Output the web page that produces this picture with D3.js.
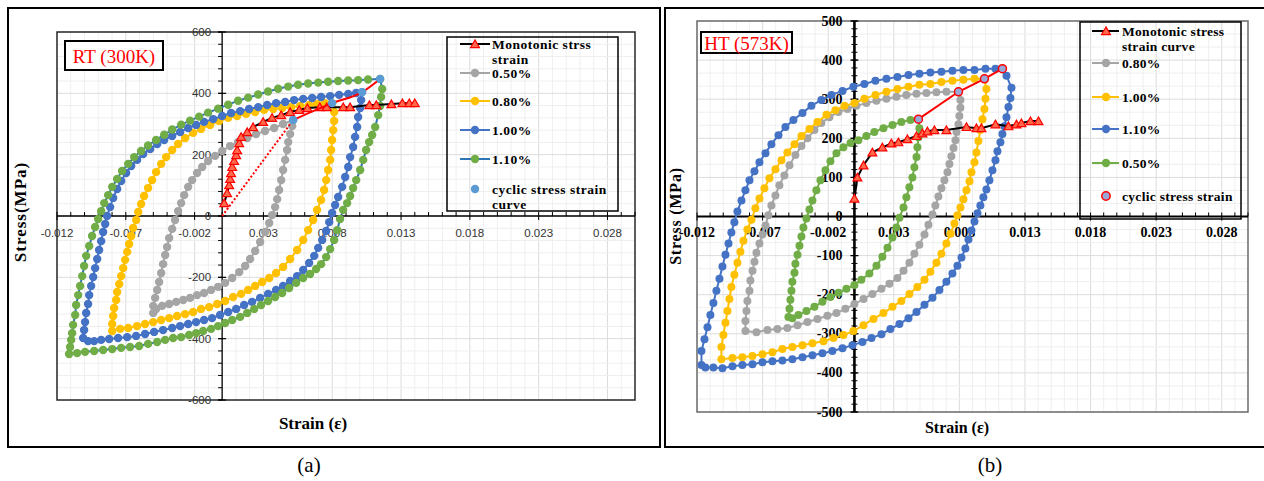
<!DOCTYPE html>
<html>
<head>
<meta charset="utf-8">
<script src="https://cdn.jsdelivr.net/npm/d3@7"></script>
<style>
  body { margin: 0; background: #fff; }
  svg { display: block; }
</style>
</head>
<body>
<svg id="fig" width="1264" height="481"></svg>
<script>
// ---- axis tick values ----
const strainTickLabels = [-0.012, -0.007, -0.002, 0.003, 0.008, 0.013, 0.018, 0.023, 0.028];
const stressTicksRT = [-600, -400, -200, 0, 200, 400, 600];
const stressTicksHT = [-500, -400, -300, -200, -100, 0, 100, 200, 300, 400, 500];

// ---- (a) RT (300K): [strain, stress MPa] ----
const rtMonotonic = [
  [0.00015,42],[0.00036,75],[0.00051,101],[0.00058,121],[0.00065,140],[0.00073,160],[0.00087,180],
  [0.00102,199],[0.00109,215],[0.00124,238],[0.00138,258],[0.00182,274],[0.00225,290],[0.00298,307],
  [0.00363,320],[0.00429,329],[0.00494,339],[0.0056,346],[0.0062,352],[0.0071,355],[0.0076,355],
  [0.0088,355],[0.0093,355],[0.0107,362],[0.0112,362],[0.0123,365],[0.0131,368],[0.0136,368],[0.014,368]
];
const rtLoop050 = [
  [0.00516,313],[0.00509,293],[0.00494,267],[0.0048,241],[0.00472,215],[0.00458,183],[0.00443,150],
  [0.00429,117],[0.00414,85],[0.004,55],[0.00385,29],[0.00363,3],[0.00342,-23],[0.00312,-52],
  [0.00276,-85],[0.0024,-114],[0.00203,-140],[0.00167,-163],[0.00124,-183],[0.00073,-202],[0.00022,-218],
  [-0.00029,-231],[-0.0008,-241],[-0.00131,-251],[-0.00182,-258],[-0.00233,-267],[-0.00283,-274],
  [-0.00334,-280],[-0.00385,-287],[-0.00436,-293],[-0.0048,-303],[-0.00501,-316],[-0.00501,-293],
  [-0.00487,-267],[-0.00472,-241],[-0.00458,-215],[-0.00443,-186],[-0.00429,-157],[-0.00414,-127],
  [-0.004,-101],[-0.00385,-72],[-0.00363,-42],[-0.00342,-13],[-0.0032,16],[-0.00298,42],[-0.00276,68],
  [-0.00247,95],[-0.00218,117],[-0.00182,140],[-0.00145,160],[-0.00102,179],[-0.00051,196],[0,212],
  [0.00058,228],[0.00116,241],[0.00182,254],[0.00247,267],[0.00312,277],[0.00378,287],[0.00443,300]
];
const rtLoop080 = [
  [0.00799,368],[0.00814,339],[0.00814,310],[0.00807,280],[0.00799,248],[0.00792,215],[0.00785,183],
  [0.0077,150],[0.00756,117],[0.00741,85],[0.00719,52],[0.0069,20],[0.00661,-13],[0.00625,-46],
  [0.00589,-78],[0.00545,-111],[0.00494,-140],[0.00443,-166],[0.00392,-186],[0.00342,-202],[0.00291,-215],
  [0.0024,-228],[0.00189,-241],[0.00138,-254],[0.0008,-264],[0.00022,-277],[-0.00036,-287],[-0.00094,-297],
  [-0.00153,-303],[-0.00211,-313],[-0.00269,-320],[-0.00327,-326],[-0.00385,-333],[-0.00443,-339],
  [-0.00501,-346],[-0.0056,-352],[-0.00618,-359],[-0.00683,-365],[-0.00741,-368],[-0.00799,-375],
  [-0.00799,-352],[-0.00792,-326],[-0.00785,-300],[-0.0077,-274],[-0.00763,-248],[-0.00748,-222],
  [-0.00734,-196],[-0.00719,-170],[-0.00705,-143],[-0.0069,-117],[-0.00676,-91],[-0.00661,-65],
  [-0.00647,-39],[-0.00625,-13],[-0.0061,13],[-0.00589,39],[-0.00567,65],[-0.00538,91],[-0.00509,117],
  [-0.0048,143],[-0.00443,170],[-0.00407,192],[-0.00363,215],[-0.0032,235],[-0.00269,254],[-0.00211,271],
  [-0.00153,284],[-0.00087,297],[-0.00022,310],[0.00044,320],[0.00109,326],[0.00174,333],[0.0024,339],
  [0.00305,346],[0.00371,349],[0.00436,352],[0.00501,355],[0.00567,359],[0.00632,362],[0.0069,365],[0.00748,368]
];
const rtLoop100 = [
  [0.01017,404],[0.0101,378],[0.01003,352],[0.00988,323],[0.00981,290],[0.00966,258],[0.00952,225],
  [0.0093,192],[0.00916,160],[0.00894,127],[0.00872,95],[0.00843,62],[0.00821,36],[0.00799,10],
  [0.00778,-20],[0.00756,-49],[0.00727,-78],[0.00698,-104],[0.00669,-130],[0.00632,-153],[0.00589,-176],
  [0.00545,-196],[0.00494,-212],[0.00443,-228],[0.00392,-241],[0.00334,-254],[0.00276,-267],[0.00218,-280],
  [0.0016,-290],[0.00102,-303],[0.00044,-313],[-0.00015,-323],[-0.00073,-333],[-0.00131,-339],
  [-0.00189,-346],[-0.00247,-352],[-0.00305,-359],[-0.00363,-365],[-0.00429,-372],[-0.00494,-378],
  [-0.0056,-385],[-0.00625,-391],[-0.0069,-395],[-0.00756,-398],[-0.00821,-401],[-0.00879,-404],
  [-0.0093,-408],[-0.00974,-408],[-0.0101,-398],
  [-0.01003,-372],[-0.00996,-346],[-0.00988,-316],[-0.00974,-287],[-0.00966,-258],[-0.00952,-228],
  [-0.00937,-199],[-0.00923,-170],[-0.00908,-140],[-0.00894,-111],[-0.00879,-82],[-0.00865,-52],
  [-0.0085,-26],[-0.00836,0],[-0.00814,29],[-0.00792,59],[-0.00763,88],[-0.00734,114],[-0.00698,140],
  [-0.00661,163],[-0.00618,183],[-0.00574,202],[-0.00523,218],[-0.00472,235],[-0.00421,248],[-0.00363,261],
  [-0.00305,274],[-0.00247,287],[-0.00189,297],[-0.00131,307],[-0.00065,316],[0,326],[0.00065,336],
  [0.00131,342],[0.00196,349],[0.00262,355],[0.00327,362],[0.00392,368],[0.00458,372],[0.00523,378],
  [0.00589,382],[0.00654,385],[0.00719,388],[0.00785,391],[0.0085,395],[0.00916,398],[0.00974,401]
];
const rtLoop110 = [
  [0.01148,447],[0.01163,414],[0.01155,388],[0.01148,359],[0.01134,329],[0.01112,290],[0.0109,264],
  [0.01068,241],[0.01046,215],[0.01025,183],[0.01003,150],[0.00974,117],[0.00952,91],[0.0093,65],
  [0.00908,42],[0.00879,20],[0.00857,-10],[0.00836,-46],[0.00814,-78],[0.00785,-108],[0.00756,-134],
  [0.00719,-157],[0.00683,-173],[0.00639,-189],[0.00589,-202],[0.00538,-218],[0.00487,-235],[0.00436,-251],
  [0.00385,-264],[0.00334,-277],[0.00283,-290],[0.00233,-303],[0.00182,-316],[0.00131,-329],[0.00073,-339],
  [0.00022,-349],[-0.00029,-359],[-0.0008,-368],[-0.00138,-375],[-0.00189,-382],[-0.0024,-388],
  [-0.00298,-395],[-0.00356,-398],[-0.00414,-404],[-0.00472,-411],[-0.00538,-417],[-0.00603,-424],
  [-0.00669,-427],[-0.00734,-430],[-0.00799,-434],[-0.00865,-437],[-0.0093,-440],[-0.00996,-443],
  [-0.01054,-447],[-0.01112,-450],
  [-0.01105,-427],[-0.01097,-404],[-0.0109,-382],[-0.01083,-355],[-0.01068,-323],[-0.01061,-290],
  [-0.01046,-258],[-0.01032,-228],[-0.01017,-196],[-0.01003,-163],[-0.00988,-130],[-0.00966,-98],
  [-0.00945,-65],[-0.00923,-36],[-0.00901,-10],[-0.00879,16],[-0.00857,42],[-0.00828,68],[-0.00799,95],
  [-0.00763,121],[-0.00727,147],[-0.00683,170],[-0.00639,192],[-0.00589,212],[-0.00538,230],[-0.0048,248],
  [-0.00421,265],[-0.00363,282],[-0.00298,298],[-0.00233,311],[-0.00167,324],[-0.00102,337],[-0.00029,350],
  [0.00044,363],[0.00116,376],[0.00189,386],[0.00262,396],[0.00334,406],[0.00407,415],[0.0048,422],
  [0.00552,428],[0.00625,432],[0.00698,435],[0.0077,438],[0.00843,440],[0.00916,442],[0.00988,443],[0.0106,445]
];
const rtCyclic = [[0.00516,313],[0.00799,368],[0.01017,404],[0.01148,447]];

// ---- (b) HT (573K): [strain, stress MPa] ----
const htMonotonic = [
  [0,46],[0.00023,100],[0.00069,131],[0.00137,164],[0.00213,177],[0.00282,187],[0.00335,190],[0.00404,198],
  [0.00473,206],[0.00518,213],[0.00556,218],[0.0061,221],[0.00701,221],[0.00854,229],[0.0093,226],
  [0.00968,226],[0.01075,236],[0.01174,231],[0.01235,236],[0.01273,239],[0.01342,244],[0.01403,244]
];
const htLoop080 = [
  [0.00793,319],[0.00808,298],[0.00808,278],[0.008,257],[0.00793,236],[0.00778,216],[0.0077,195],
  [0.00755,175],[0.00739,154],[0.00724,134],[0.00709,113],[0.00686,93],[0.00663,72],[0.0064,51],
  [0.00617,28],[0.00595,5],[0.00564,-21],[0.00534,-46],[0.00495,-72],[0.00457,-95],[0.00419,-118],
  [0.00374,-139],[0.00328,-157],[0.00267,-172],[0.00206,-185],[0.00137,-198],[0.00069,-211],[0,-224],
  [-0.00069,-236],[-0.00137,-247],[-0.00206,-254],[-0.00282,-262],[-0.00358,-270],[-0.00434,-278],
  [-0.00511,-285],[-0.00587,-288],[-0.00663,-290],[-0.00747,-296],[-0.00831,-293],
  [-0.00831,-267],[-0.00823,-242],[-0.00816,-216],[-0.008,-190],[-0.00793,-164],[-0.00777,-139],
  [-0.00762,-116],[-0.00747,-93],[-0.00724,-69],[-0.00701,-46],[-0.00678,-23],[-0.00656,3],[-0.00633,28],
  [-0.00602,54],[-0.00572,80],[-0.00534,105],[-0.00495,131],[-0.0045,157],[-0.00404,180],[-0.00358,200],
  [-0.00305,221],[-0.00252,239],[-0.00191,254],[-0.00122,267],[-0.00053,275],[0.00015,283],[0.00091,290],
  [0.00168,296],[0.00244,301],[0.0032,306],[0.00396,311],[0.00473,314],[0.00549,316],[0.00625,318],[0.00701,319]
];
const htLoop100 = [
  [0.00991,352],[0.01006,326],[0.00999,301],[0.00991,275],[0.00976,249],[0.0096,221],[0.00945,193],
  [0.0093,164],[0.00915,139],[0.00892,113],[0.00877,90],[0.00854,67],[0.00831,44],[0.00808,23],
  [0.00785,3],[0.00762,-18],[0.00732,-44],[0.00701,-69],[0.00663,-95],[0.00625,-118],[0.00579,-141],
  [0.00534,-162],[0.0048,-180],[0.00419,-198],[0.00358,-216],[0.0029,-231],[0.00221,-247],[0.00145,-262],
  [0.00069,-278],[-0.00008,-293],[-0.00084,-303],[-0.0016,-311],[-0.00236,-319],[-0.0032,-324],
  [-0.00396,-329],[-0.00473,-334],[-0.00549,-339],[-0.00625,-347],[-0.00701,-352],[-0.00778,-357],
  [-0.00854,-360],[-0.0093,-362],[-0.01014,-365],
  [-0.01014,-334],[-0.00999,-303],[-0.00983,-272],[-0.00968,-242],[-0.00953,-211],[-0.00938,-180],
  [-0.00915,-149],[-0.00892,-118],[-0.00869,-90],[-0.00846,-62],[-0.00816,-33],[-0.00785,-8],[-0.00755,21],
  [-0.00724,46],[-0.00686,72],[-0.00648,98],[-0.00602,121],[-0.00556,144],[-0.00511,164],[-0.00457,185],
  [-0.00404,206],[-0.00343,224],[-0.00282,242],[-0.00213,260],[-0.00145,272],[-0.00076,283],[0,290],
  [0.00076,301],[0.0016,311],[0.00244,319],[0.00328,326],[0.00412,332],[0.00495,337],[0.00579,339],
  [0.00663,344],[0.00747,347],[0.00831,350],[0.00915,352]
];
const htLoop110 = [
  [0.01128,378],[0.01159,360],[0.01197,329],[0.01189,303],[0.01174,280],[0.01159,254],[0.01143,231],
  [0.01128,211],[0.01113,190],[0.0109,167],[0.01075,144],[0.01052,118],[0.01029,93],[0.01006,69],
  [0.00983,49],[0.0096,28],[0.00938,8],[0.00915,-13],[0.00892,-36],[0.00869,-59],[0.00846,-82],
  [0.00816,-105],[0.00785,-126],[0.00747,-146],[0.00701,-167],[0.00648,-188],[0.00595,-208],[0.00534,-226],
  [0.00473,-244],[0.00412,-260],[0.00343,-275],[0.00274,-288],[0.00206,-301],[0.0013,-311],[0.00061,-321],
  [-0.00015,-329],[-0.00091,-337],[-0.00168,-344],[-0.00244,-350],[-0.0032,-355],[-0.00396,-360],
  [-0.00473,-365],[-0.00549,-368],[-0.00625,-370],[-0.00701,-373],[-0.00777,-378],[-0.00854,-380],
  [-0.0093,-383],[-0.01006,-388],[-0.01075,-386],[-0.01136,-386],[-0.01166,-380],
  [-0.01166,-344],[-0.01143,-314],[-0.0112,-283],[-0.01098,-252],[-0.01075,-221],[-0.01052,-190],
  [-0.01029,-159],[-0.01006,-128],[-0.00983,-98],[-0.0096,-69],[-0.00938,-41],[-0.00915,-15],[-0.00892,13],
  [-0.00861,41],[-0.00831,67],[-0.008,93],[-0.00762,116],[-0.00724,139],[-0.00678,162],[-0.00633,185],
  [-0.00579,208],[-0.00526,229],[-0.00465,247],[-0.00396,265],[-0.00328,283],[-0.00252,298],[-0.00175,311],
  [-0.00091,321],[-0.00008,332],[0.00076,339],[0.0016,347],[0.00244,352],[0.00328,357],[0.00412,362],
  [0.00495,365],[0.00579,368],[0.00663,370],[0.00747,373],[0.00831,375],[0.00915,375],[0.00999,378],[0.01075,378]
];
const htLoop050 = [
  [0.00488,249],[0.00495,226],[0.00488,203],[0.0048,177],[0.00473,152],[0.00457,126],[0.00442,100],
  [0.00419,75],[0.00396,49],[0.00374,23],[0.00343,-3],[0.0032,-28],[0.0029,-54],[0.00252,-80],
  [0.00213,-103],[0.00168,-126],[0.00114,-146],[0.00053,-162],[0,-175],[-0.00061,-185],[-0.00122,-195],
  [-0.00183,-206],[-0.00244,-218],[-0.00305,-231],[-0.00366,-242],[-0.00427,-252],[-0.00473,-260],[-0.00503,-257],
  [-0.00495,-236],[-0.00488,-213],[-0.0048,-190],[-0.00473,-167],[-0.00457,-144],[-0.0045,-121],
  [-0.00434,-98],[-0.00419,-75],[-0.00404,-51],[-0.00389,-28],[-0.00366,-5],[-0.00343,18],[-0.0032,41],
  [-0.0029,67],[-0.00259,93],[-0.00221,118],[-0.00183,141],[-0.00137,162],[-0.00084,177],[-0.0003,188],
  [0.0003,195],[0.00091,206],[0.00152,216],[0.00221,226],[0.0029,234],[0.00358,242],[0.00427,247]
];
const htCyclic = [[0.00488,249],[0.00793,319],[0.00991,352],[0.01128,378]];

// ---- fonts / colours ----
const serif = "'Liberation Serif','Times New Roman',serif";
const sans = "'Liberation Sans',Arial,sans-serif";
const C = { gray: "#a5a5a5", yellow: "#ffc000", blue: "#4472c4", green: "#70ad47",
            deepBlue: "#2e75b6", lightBlue: "#5b9bd5", red: "#ff0000" };

const svg = d3.select("#fig");
svg.append("rect").attr("width", 1264).attr("height", 481).attr("fill", "#fff");

// grid + axes for one panel
function drawFrame(g, x, y, o) {
  const [px0, px1] = x.range();
  const [py1, py0] = y.range();   // py1 = bottom, py0 = top
  const gridX = d3.range(-12, 31).map(i => i / 1000);
  g.append("g").selectAll("line").data(gridX).join("line")
    .attr("x1", d => x(d)).attr("x2", d => x(d)).attr("y1", py0).attr("y2", py1)
    .attr("stroke", d => strainTickLabels.some(t => Math.abs(t - d) < 1e-9) ? "#dcdcdc" : "#efefef")
    .attr("stroke-width", 1);
  g.append("g").selectAll("line").data(o.gridY).join("line")
    .attr("x1", px0).attr("x2", px1).attr("y1", d => y(d)).attr("y2", d => y(d))
    .attr("stroke", d => o.yTicks.some(t => Math.abs(t - d) < 1e-6) ? "#dcdcdc" : "#efefef")
    .attr("stroke-width", 1);
  g.append("rect").attr("x", px0).attr("y", py0).attr("width", px1 - px0).attr("height", py1 - py0)
    .attr("fill", "none").attr("stroke", o.borderColor).attr("stroke-width", 1.5);

  const ax = x(0), ay = y(0);
  // x axis
  g.append("line").attr("x1", px0).attr("x2", px1).attr("y1", ay).attr("y2", ay)
    .attr("stroke", "#000").attr("stroke-width", o.xAxisWidth);
  g.append("g").selectAll("line").data(gridX).join("line")
    .attr("x1", d => x(d)).attr("x2", d => x(d)).attr("y1", ay - 4)
    .attr("y2", d => strainTickLabels.some(t => Math.abs(t - d) < 1e-9) ? ay + 4 : ay)
    .attr("stroke", "#000").attr("stroke-width", 1);
  // y axis
  g.append("line").attr("x1", ax).attr("x2", ax).attr("y1", py0).attr("y2", py1)
    .attr("stroke", "#000").attr("stroke-width", o.yAxisWidth);
  g.append("g").selectAll("line").data(o.yMinorTicks).join("line")
    .attr("x1", ax - o.minorLeft).attr("x2", ax + o.minorRight).attr("y1", d => y(d)).attr("y2", d => y(d))
    .attr("stroke", "#000").attr("stroke-width", 1);
  g.append("g").selectAll("line").data(o.yTicks).join("line")
    .attr("x1", ax - 4).attr("x2", ax + 4).attr("y1", d => y(d)).attr("y2", d => y(d))
    .attr("stroke", "#000").attr("stroke-width", 1.2);

  // tick labels
  g.append("g").selectAll("text").data(strainTickLabels).join("text")
    .attr("x", d => x(d)).attr("y", ay + o.xLabelDy).attr("text-anchor", "middle")
    .attr("dominant-baseline", "central")
    .style("font-family", o.tickFont).style("font-size", o.tickSize + "px")
    .style("font-weight", o.tickWeight).attr("fill", o.tickColor)
    .text(d => d3.format(".3f")(d).replace("−", "-"));
  g.append("g").selectAll("text").data(o.yTicks).join("text")
    .attr("x", ax - o.yLabelGap).attr("y", d => y(d)).attr("text-anchor", "end")
    .attr("dominant-baseline", "central")
    .style("font-family", o.tickFont).style("font-size", o.tickSize + "px")
    .style("font-weight", o.tickWeight).attr("fill", o.tickColor)
    .text(d => String(d));
}

const lineGen = (x, y) => d3.line().x(d => x(d[0])).y(d => y(d[1]));

function drawLoop(g, x, y, pts, lineColor, markColor, r) {
  g.append("path").datum(pts.concat([pts[0]])).attr("d", lineGen(x, y))
    .attr("fill", "none").attr("stroke", lineColor).attr("stroke-width", 2);
  g.append("g").selectAll("circle").data(pts).join("circle")
    .attr("cx", d => x(d[0])).attr("cy", d => y(d[1])).attr("r", r).attr("fill", markColor);
}

const tri = d3.symbol(d3.symbolTriangle, 34);
function drawMonotonic(g, x, y, pts) {
  g.append("path").datum(pts).attr("d", lineGen(x, y))
    .attr("fill", "none").attr("stroke", "#000").attr("stroke-width", 2);
  g.append("g").selectAll("path").data(pts).join("path")
    .attr("d", tri).attr("transform", d => `translate(${x(d[0])},${y(d[1]) + 1})`)
    .attr("fill", "#ff6a4d").attr("stroke", C.red).attr("stroke-width", 1.2);
}

function drawLegend(g, box, rows, o) {
  g.append("rect").attr("x", box[0]).attr("y", box[1]).attr("width", box[2]).attr("height", box[3])
    .attr("fill", "none").attr("stroke", "#000").attr("stroke-width", 1.5);
  rows.forEach(rw => {
    if (rw.line) g.append("line").attr("x1", o.lx0).attr("x2", o.lx1).attr("y1", rw.y).attr("y2", rw.y)
      .attr("stroke", rw.line).attr("stroke-width", 2);
    if (rw.mark === "tri") {
      g.append("path").attr("d", tri).attr("transform", `translate(${o.mx},${rw.y + 1})`)
        .attr("fill", "#ff6a4d").attr("stroke", C.red).attr("stroke-width", 1.2);
    } else if (rw.mark) {
      g.append("circle").attr("cx", o.mx).attr("cy", rw.y).attr("r", 4.2)
        .attr("fill", rw.mark).attr("stroke", rw.stroke || "none").attr("stroke-width", 1.5);
    }
    rw.text.forEach((t, i) => g.append("text").attr("x", o.tx).attr("y", rw.y + i * o.lineGap)
      .attr("dominant-baseline", "central")
      .style("font-family", serif).style("font-weight", "bold").style("font-size", o.size + "px")
      .style("letter-spacing", o.spacing + "px").attr("fill", "#000").text(t));
  });
}

function drawTitleBox(g, box, label) {
  g.append("rect").attr("x", box[0]).attr("y", box[1]).attr("width", box[2]).attr("height", box[3])
    .attr("fill", "#fff").attr("stroke", "#000").attr("stroke-width", 2);
  g.append("text").attr("x", box[0] + box[2] / 2).attr("y", box[1] + box[3] / 2 + 1)
    .attr("text-anchor", "middle").attr("dominant-baseline", "central")
    .style("font-family", serif).style("font-size", "19px").attr("fill", C.red).text(label);
}

// ===================== panel (a) =====================
{
  const g = svg.append("g");
  g.append("rect").attr("x", 8).attr("y", 8).attr("width", 652).attr("height", 439)
    .attr("fill", "none").attr("stroke", "#000").attr("stroke-width", 2);
  const x = d3.scaleLinear().domain([-0.012, 0.030]).range([57, 635]);
  const y = d3.scaleLinear().domain([-600, 600]).range([400, 32]);
  drawFrame(g, x, y, {
    gridY: d3.range(-600, 601, 40), yTicks: stressTicksRT, yMinorTicks: d3.range(-600, 601, 40),
    minorLeft: 4, minorRight: 0, borderColor: "#2a2a2a", xAxisWidth: 1.3, yAxisWidth: 1.3,
    tickFont: sans, tickSize: 11.5, tickWeight: "normal", tickColor: "#333",
    xLabelDy: 17, yLabelGap: 11
  });

  drawLoop(g, x, y, rtLoop050, C.gray, C.gray, 4.2);
  drawLoop(g, x, y, rtLoop080, C.yellow, C.yellow, 4.2);
  drawLoop(g, x, y, rtLoop100, C.blue, C.blue, 4.2);
  drawLoop(g, x, y, rtLoop110, C.deepBlue, C.green, 4.2);
  drawMonotonic(g, x, y, rtMonotonic);

  // cyclic stress-strain curve with the elastic line from the origin
  g.append("path").datum([[0, 0], rtCyclic[0]]).attr("d", lineGen(x, y))
    .attr("fill", "none").attr("stroke", C.red).attr("stroke-width", 2).attr("stroke-dasharray", "2,2");
  g.append("path").datum(rtCyclic).attr("d", lineGen(x, y).curve(d3.curveMonotoneX))
    .attr("fill", "none").attr("stroke", C.red).attr("stroke-width", 2);
  g.append("g").selectAll("circle").data(rtCyclic).join("circle")
    .attr("cx", d => x(d[0])).attr("cy", d => y(d[1])).attr("r", 4.2).attr("fill", C.lightBlue);

  drawLegend(g, [447, 37, 171, 174], [
    { y: 44, line: "#000", mark: "tri", text: ["Monotonic strss", "strain"] },
    { y: 73, line: C.gray, mark: C.gray, text: ["0.50%"] },
    { y: 101, line: C.yellow, mark: C.yellow, text: ["0.80%"] },
    { y: 130, line: C.blue, mark: C.blue, text: ["1.00%"] },
    { y: 159, line: C.deepBlue, mark: C.green, text: ["1.10%"] },
    { y: 189, line: null, mark: C.lightBlue, text: ["cyclic stress strain", "curve"] }
  ], { lx0: 460, lx1: 490, mx: 475, tx: 492, size: 13.5, spacing: 0.5, lineGap: 15 });

  drawTitleBox(g, [65, 41, 98, 29], "RT (300K)");

  g.append("text").attr("transform", "translate(26,212) rotate(-90)").attr("text-anchor", "middle")
    .style("font-family", serif).style("font-weight", "bold").style("font-size", "17px")
    .style("letter-spacing", "1px").text("Stress(MPa)");
  g.append("text").attr("x", 313).attr("y", 429).attr("text-anchor", "middle")
    .style("font-family", serif).style("font-weight", "bold").style("font-size", "17px").text("Strain (ε)");
  g.append("text").attr("x", 309).attr("y", 472).attr("text-anchor", "middle")
    .style("font-family", serif).style("font-size", "21px").text("(a)");
}

// ===================== panel (b) =====================
{
  const g = svg.append("g");
  g.append("rect").attr("x", 665).attr("y", 8).attr("width", 640).attr("height", 439)
    .attr("fill", "none").attr("stroke", "#000").attr("stroke-width", 2);
  const x = d3.scaleLinear().domain([-0.012, 0.030]).range([697, 1248]);
  const y = d3.scaleLinear().domain([-500, 500]).range([412, 21]);
  drawFrame(g, x, y, {
    gridY: d3.range(-15, 16).map(i => i * 100 / 3), yTicks: stressTicksHT,
    yMinorTicks: d3.range(-500, 501, 20),
    minorLeft: 3, minorRight: 3, borderColor: "#6d6d6d", xAxisWidth: 2, yAxisWidth: 2.6,
    tickFont: serif, tickSize: 14, tickWeight: "bold", tickColor: "#000",
    xLabelDy: 16, yLabelGap: 12
  });

  drawLoop(g, x, y, htLoop080, C.gray, C.gray, 4);
  drawLoop(g, x, y, htLoop100, C.yellow, C.yellow, 4);
  drawLoop(g, x, y, htLoop110, C.blue, C.blue, 4);
  drawLoop(g, x, y, htLoop050, C.green, C.green, 4);
  drawMonotonic(g, x, y, htMonotonic);

  g.append("path").datum(htCyclic).attr("d", lineGen(x, y))
    .attr("fill", "none").attr("stroke", C.red).attr("stroke-width", 2);
  g.append("g").selectAll("circle").data(htCyclic).join("circle")
    .attr("cx", d => x(d[0])).attr("cy", d => y(d[1])).attr("r", 4)
    .attr("fill", "#9aa8d8").attr("stroke", C.red).attr("stroke-width", 1.5);

  drawLegend(g, [1080, 22, 161, 197], [
    { y: 31, line: "#000", mark: "tri", text: ["Monotonic stress", "strain curve"] },
    { y: 63, line: C.gray, mark: C.gray, text: ["0.80%"] },
    { y: 97, line: C.yellow, mark: C.yellow, text: ["1.00%"] },
    { y: 129, line: C.blue, mark: C.blue, text: ["1.10%"] },
    { y: 163, line: C.green, mark: C.green, text: ["0.50%"] },
    { y: 196, line: null, mark: "#9aa8d8", stroke: C.red, text: ["cyclic stress strain"] }
  ], { lx0: 1092, lx1: 1119, mx: 1106, tx: 1122, size: 13.5, spacing: 0.3, lineGap: 15 });

  drawTitleBox(g, [701, 32, 91, 21], "HT (573K)");

  g.append("text").attr("transform", "translate(681,216) rotate(-90)").attr("text-anchor", "middle")
    .style("font-family", serif).style("font-weight", "bold").style("font-size", "16px")
    .style("letter-spacing", "0.8px").text("Stress (MPa)");
  g.append("text").attr("x", 957).attr("y", 433).attr("text-anchor", "middle")
    .style("font-family", serif).style("font-weight", "bold").style("font-size", "16px").text("Strain (ε)");
  g.append("text").attr("x", 990).attr("y", 472).attr("text-anchor", "middle")
    .style("font-family", serif).style("font-size", "21px").text("(b)");
}
</script>
</body>
</html>
